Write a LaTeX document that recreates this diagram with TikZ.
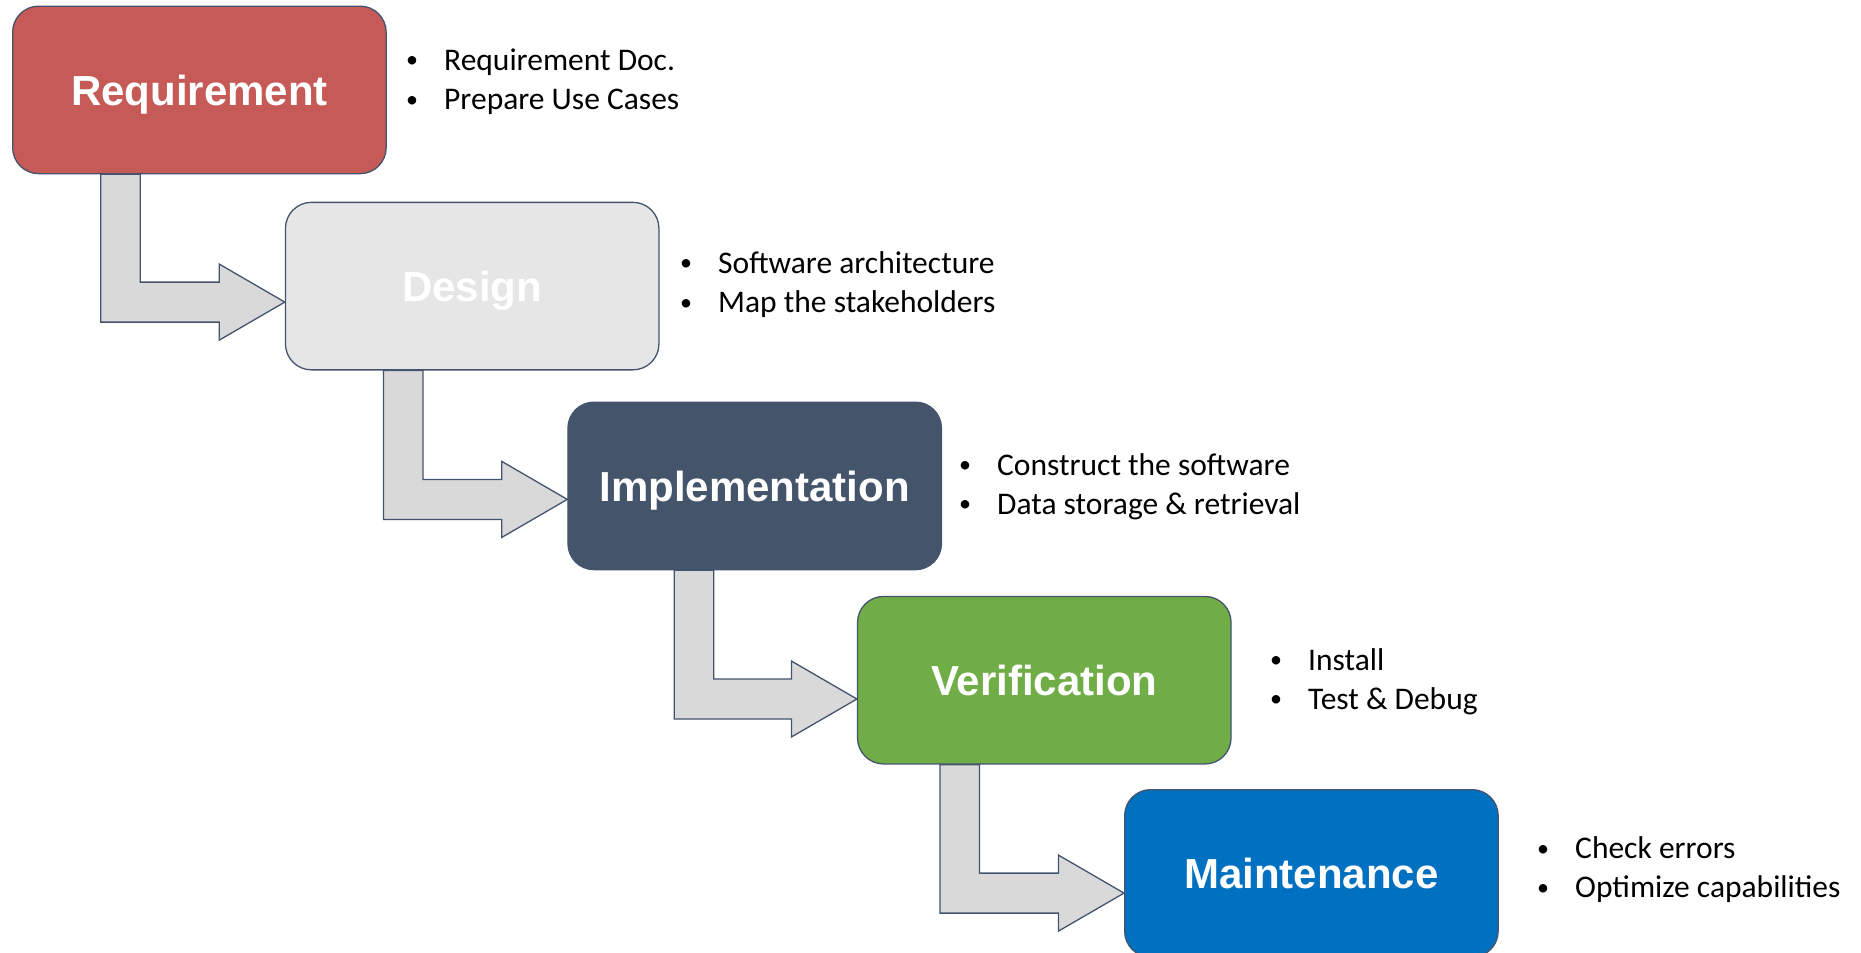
\documentclass[tikz,border=0pt]{standalone}
\usepackage{fontspec}
\setmainfont{Carlito}
\newfontfamily\labelfont{Liberation Sans}
\usetikzlibrary{calc}

\definecolor{reqred}{HTML}{C65A57}
\definecolor{designgray}{HTML}{E7E6E6}
\definecolor{implslate}{HTML}{44546A}
\definecolor{verifgreen}{HTML}{70AD47}
\definecolor{maintblue}{HTML}{0070C0}
\definecolor{edge}{HTML}{45546E}
\definecolor{arrowgray}{HTML}{D9D9D9}

\pgfdeclarelayer{bg}
\pgfsetlayers{bg,main}

% Bent block arrow from the bottom of one stage to the left side of the next.
% #1 source node, #2 target node, #3 shaft offset from source's left edge, #4 drop of the tip below target centre
\newcommand\stagearrow[4]{%
  \draw[bararrow] let \p1=(#1.south west), \p2=(#2.west) in
    (\x1+#3pt,\y1) -- (\x1+#3pt+39.5pt,\y1)
    -- (\x1+#3pt+39.5pt,\y2-#4pt+20pt) -- (\x2-65.5pt,\y2-#4pt+20pt)
    -- (\x2-65.5pt,\y2-#4pt+38pt) -- (\x2,\y2-#4pt)
    -- (\x2-65.5pt,\y2-#4pt-38pt) -- (\x2-65.5pt,\y2-#4pt-20pt)
    -- (\x1+#3pt,\y2-#4pt-20pt) -- cycle;}

% bullet item: small dot centred at the current point, text 32pt further right
\newcommand\bul[1]{\makebox[0pt]{\raisebox{2.6pt}{\fontsize{24}{24}\selectfont •}}\hspace{32pt}#1}

\begin{document}
\begin{tikzpicture}[x=1pt,y=-1pt,
  stage/.style={draw=edge, line width=1.3pt, rounded corners=26pt,
    minimum width=373.5pt, minimum height=167.5pt, anchor=north west,
    inner sep=0pt, text=white, text height=30.7pt, text depth=0pt,
    font=\labelfont\bfseries\fontsize{42}{50}\selectfont},
  bararrow/.style={draw=edge, fill=arrowgray, line width=1.3pt, line join=miter},
  note/.style={anchor=base west, inner sep=0pt,
    font=\fontsize{31.5}{39}\selectfont}]

\useasboundingbox (0,0) rectangle (1861,953);
\clip (0,0) rectangle (1861,953);

% stages
\node[stage, fill=reqred]     (req)  at (12,5.5)      {Requirement};
\node[stage, fill=designgray] (des)  at (284.8,201.7) {Design};
\node[stage, fill=implslate]  (impl) at (567.3,401.5) {Implementation};
\node[stage, fill=verifgreen] (ver)  at (856.9,595.8) {Verification};
\node[stage, fill=maintblue]  (mnt)  at (1124,789)    {Maintenance};

% connectors, kept behind the stages
\begin{pgfonlayer}{bg}
  \fill[white] (0,0) rectangle (1861,953);
  \stagearrow{req}{des}{88.8}{16}
  \stagearrow{des}{impl}{98.6}{13.5}
  \stagearrow{impl}{ver}{106.9}{18.8}
  \stagearrow{ver}{mnt}{83.1}{19.7}
\end{pgfonlayer}

% bullet notes
\node[note] (reqa)  at (412,70.5)   {\bul{Requirement Doc.}};
\node[note] (reqb)  at (412,109.7)  {\bul{Prepare Use Cases}};
\node[note] (desa)  at (686,273.5)  {\bul{Software architecture}};
\node[note] (desb)  at (686,312.7)  {\bul{Map the stakeholders}};
\node[note] (impla) at (965,475.3)  {\bul{Construct the software}};
\node[note] (implb) at (965,514.4)  {\bul{Data storage \& retrieval}};
\node[note] (vera)  at (1276,670)   {\bul{Install}};
\node[note] (verb)  at (1276,709)   {\bul{Test \& Debug}};
\node[note] (mnta)  at (1543,858.6) {\bul{Check errors}};
\node[note] (mntb)  at (1543,897.8) {\bul{Optimize capabilities}};
\end{tikzpicture}
\end{document}
